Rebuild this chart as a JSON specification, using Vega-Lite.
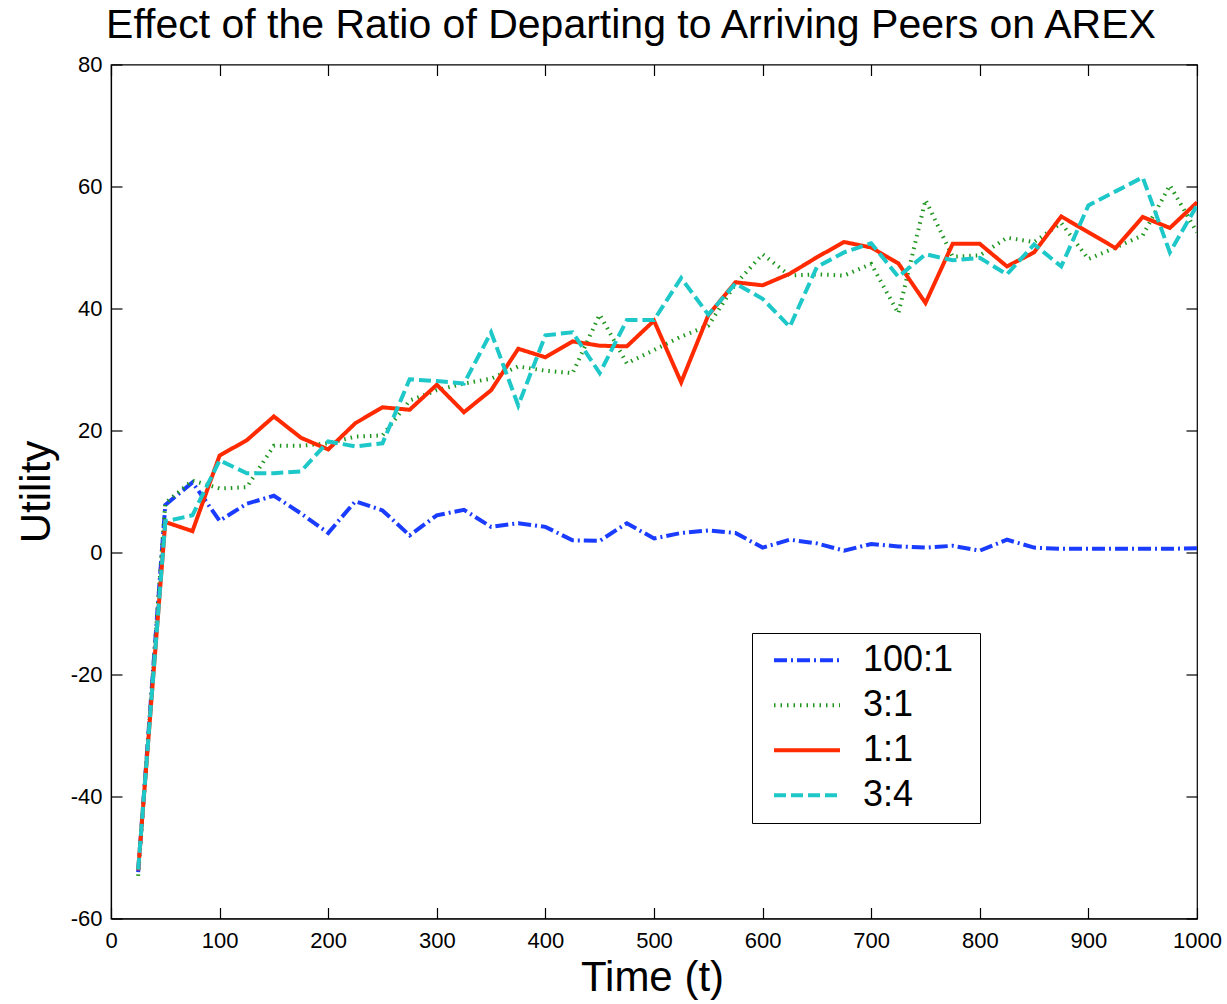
{
  "$schema": "https://vega.github.io/schema/vega-lite/v6.json",
  "width": 1086,
  "height": 854,
  "autosize": "none",
  "padding": {"left": 111, "top": 64.5, "right": 30, "bottom": 85.5},
  "background": "white",
  "title": {"text": "Effect of the Ratio of Departing to Arriving Peers on AREX", "font": "Liberation Sans", "fontSize": 41, "fontWeight": "normal", "color": "black", "anchor": "middle", "frame": "group", "dx": -23, "dy": 51, "offset": 26, "baseline": "alphabetic"},
  "data": {"values": [
    {"t":25,"s":"100:1","u":-52.4},{"t":50,"s":"100:1","u":7.8},{"t":75,"s":"100:1","u":11.5},{"t":100,"s":"100:1","u":5.2},{"t":125,"s":"100:1","u":8},{"t":150,"s":"100:1","u":9.3},{"t":175,"s":"100:1","u":6.4},{"t":200,"s":"100:1","u":3.2},{"t":225,"s":"100:1","u":8.4},{"t":250,"s":"100:1","u":6.9},{"t":275,"s":"100:1","u":2.8},{"t":300,"s":"100:1","u":6.1},{"t":325,"s":"100:1","u":7.0},{"t":350,"s":"100:1","u":4.2},{"t":375,"s":"100:1","u":4.8},{"t":400,"s":"100:1","u":4.2},{"t":425,"s":"100:1","u":2.0},{"t":450,"s":"100:1","u":1.9},{"t":475,"s":"100:1","u":4.8},{"t":500,"s":"100:1","u":2.3},{"t":525,"s":"100:1","u":3.2},{"t":550,"s":"100:1","u":3.6},{"t":575,"s":"100:1","u":3.2},{"t":600,"s":"100:1","u":0.8},{"t":625,"s":"100:1","u":2.1},{"t":650,"s":"100:1","u":1.5},{"t":675,"s":"100:1","u":0.3},{"t":700,"s":"100:1","u":1.4},{"t":725,"s":"100:1","u":1.0},{"t":750,"s":"100:1","u":0.8},{"t":775,"s":"100:1","u":1.1},{"t":800,"s":"100:1","u":0.3},{"t":825,"s":"100:1","u":2.1},{"t":850,"s":"100:1","u":0.8},{"t":875,"s":"100:1","u":0.6},{"t":900,"s":"100:1","u":0.6},{"t":925,"s":"100:1","u":0.6},{"t":950,"s":"100:1","u":0.6},{"t":975,"s":"100:1","u":0.6},{"t":1000,"s":"100:1","u":0.7},
    {"t":25,"s":"3:1","u":-53},{"t":50,"s":"3:1","u":8.1},{"t":75,"s":"3:1","u":11.8},{"t":100,"s":"3:1","u":10.5},{"t":125,"s":"3:1","u":10.7},{"t":150,"s":"3:1","u":17.5},{"t":175,"s":"3:1","u":17.5},{"t":200,"s":"3:1","u":17.9},{"t":225,"s":"3:1","u":19.0},{"t":250,"s":"3:1","u":19.2},{"t":275,"s":"3:1","u":24.9},{"t":300,"s":"3:1","u":26.6},{"t":325,"s":"3:1","u":27.7},{"t":350,"s":"3:1","u":28.5},{"t":375,"s":"3:1","u":30.5},{"t":400,"s":"3:1","u":29.8},{"t":425,"s":"3:1","u":29.4},{"t":450,"s":"3:1","u":39.0},{"t":475,"s":"3:1","u":31.0},{"t":500,"s":"3:1","u":33.2},{"t":525,"s":"3:1","u":35.4},{"t":550,"s":"3:1","u":37.2},{"t":575,"s":"3:1","u":44.0},{"t":600,"s":"3:1","u":48.9},{"t":625,"s":"3:1","u":45.4},{"t":650,"s":"3:1","u":45.6},{"t":675,"s":"3:1","u":45.4},{"t":700,"s":"3:1","u":47.3},{"t":725,"s":"3:1","u":39.2},{"t":750,"s":"3:1","u":57.8},{"t":775,"s":"3:1","u":48.5},{"t":800,"s":"3:1","u":48.7},{"t":825,"s":"3:1","u":51.6},{"t":850,"s":"3:1","u":50.9},{"t":875,"s":"3:1","u":54.0},{"t":900,"s":"3:1","u":48.1},{"t":925,"s":"3:1","u":50.0},{"t":950,"s":"3:1","u":52.0},{"t":975,"s":"3:1","u":60.2},{"t":1000,"s":"3:1","u":52.5},
    {"t":25,"s":"1:1","u":-52.1},{"t":50,"s":"1:1","u":5.0},{"t":75,"s":"1:1","u":3.5},{"t":100,"s":"1:1","u":15.9},{"t":125,"s":"1:1","u":18.4},{"t":150,"s":"1:1","u":22.3},{"t":175,"s":"1:1","u":18.8},{"t":200,"s":"1:1","u":16.9},{"t":225,"s":"1:1","u":21.2},{"t":250,"s":"1:1","u":23.8},{"t":275,"s":"1:1","u":23.4},{"t":300,"s":"1:1","u":27.5},{"t":325,"s":"1:1","u":23.0},{"t":350,"s":"1:1","u":26.6},{"t":375,"s":"1:1","u":33.4},{"t":400,"s":"1:1","u":32.0},{"t":425,"s":"1:1","u":34.6},{"t":450,"s":"1:1","u":33.9},{"t":475,"s":"1:1","u":33.8},{"t":500,"s":"1:1","u":38.0},{"t":525,"s":"1:1","u":27.9},{"t":550,"s":"1:1","u":38.9},{"t":575,"s":"1:1","u":44.3},{"t":600,"s":"1:1","u":43.8},{"t":625,"s":"1:1","u":45.7},{"t":650,"s":"1:1","u":48.4},{"t":675,"s":"1:1","u":50.9},{"t":700,"s":"1:1","u":50.0},{"t":725,"s":"1:1","u":47.4},{"t":750,"s":"1:1","u":40.9},{"t":775,"s":"1:1","u":50.6},{"t":800,"s":"1:1","u":50.6},{"t":825,"s":"1:1","u":46.9},{"t":850,"s":"1:1","u":49.2},{"t":875,"s":"1:1","u":55.1},{"t":900,"s":"1:1","u":52.5},{"t":925,"s":"1:1","u":49.9},{"t":950,"s":"1:1","u":55.0},{"t":975,"s":"1:1","u":53.2},{"t":1000,"s":"1:1","u":57.4},
    {"t":25,"s":"3:4","u":-52},{"t":50,"s":"3:4","u":5.1},{"t":75,"s":"3:4","u":6.1},{"t":100,"s":"3:4","u":15.1},{"t":125,"s":"3:4","u":13.0},{"t":150,"s":"3:4","u":13.0},{"t":175,"s":"3:4","u":13.3},{"t":200,"s":"3:4","u":18.2},{"t":225,"s":"3:4","u":17.4},{"t":250,"s":"3:4","u":17.9},{"t":275,"s":"3:4","u":28.4},{"t":300,"s":"3:4","u":28.1},{"t":325,"s":"3:4","u":27.7},{"t":350,"s":"3:4","u":36.1},{"t":375,"s":"3:4","u":24.1},{"t":400,"s":"3:4","u":35.6},{"t":425,"s":"3:4","u":36.1},{"t":450,"s":"3:4","u":29.4},{"t":475,"s":"3:4","u":38.1},{"t":500,"s":"3:4","u":38.1},{"t":525,"s":"3:4","u":45.0},{"t":550,"s":"3:4","u":39.0},{"t":575,"s":"3:4","u":44.1},{"t":600,"s":"3:4","u":41.6},{"t":625,"s":"3:4","u":37.0},{"t":650,"s":"3:4","u":46.8},{"t":675,"s":"3:4","u":49.2},{"t":700,"s":"3:4","u":50.7},{"t":725,"s":"3:4","u":45.2},{"t":750,"s":"3:4","u":48.9},{"t":775,"s":"3:4","u":47.9},{"t":800,"s":"3:4","u":48.3},{"t":825,"s":"3:4","u":45.6},{"t":850,"s":"3:4","u":50.5},{"t":875,"s":"3:4","u":46.9},{"t":900,"s":"3:4","u":56.9},{"t":925,"s":"3:4","u":59.2},{"t":950,"s":"3:4","u":61.5},{"t":975,"s":"3:4","u":49.2},{"t":1000,"s":"3:4","u":56.9}
  ]},
  "layer": [
    {
      "mark": {"type": "line", "clip": true},
      "encoding": {
        "x": {"field": "t", "type": "quantitative", "scale": {"domain": [0, 1000], "nice": false},
          "axis": {"title": "Time (t)", "values": [0,100,200,300,400,500,600,700,800,900,1000], "labelExpr": "'' + datum.value", "grid": false, "tickSize": -11, "tickColor": "black", "domainColor": "black", "labelPadding": 23, "labelFont": "Liberation Sans", "labelFontSize": 22, "labelColor": "black", "titleFont": "Liberation Sans", "titleFontSize": 42, "titleFontWeight": "normal", "titleColor": "black", "titleBaseline": "alphabetic", "titleX": 541, "titleY": 72, "labelFlush": false}},
        "y": {"field": "u", "type": "quantitative", "scale": {"domain": [-60, 80], "nice": false, "zero": false},
          "axis": {"title": "Utility", "values": [-60,-40,-20,0,20,40,60,80], "labelExpr": "'' + datum.value", "grid": false, "tickSize": -11, "tickColor": "black", "domainColor": "black", "labelPadding": 20, "labelFont": "Liberation Sans", "labelFontSize": 22, "labelColor": "black", "titleFont": "Liberation Sans", "titleFontSize": 42, "titleFontWeight": "normal", "titleColor": "black", "titleBaseline": "alphabetic", "titleX": -62, "titleY": 427, "titleAngle": -90, "titleAlign": "center"}},
        "color": {"field": "s", "type": "nominal", "scale": {"domain": ["100:1","3:1","1:1","3:4"], "range": ["#1a3cff","#1e961e","#ff2a00","#1ec8c8"]},
          "legend": {"title": " ", "titleOrient": "right", "titleFontSize": 80, "titlePadding": 22, "orient": "none", "legendX": 641, "legendY": 568.5, "strokeColor": "black", "fillColor": "white", "padding": 5, "clipHeight": 44.6, "rowPadding": 0, "labelFont": "Liberation Sans", "labelFontSize": 36, "labelColor": "black", "symbolType": "stroke", "symbolSize": 4356, "symbolOffset": 15, "labelOffset": 21}},
        "strokeDash": {"field": "s", "type": "nominal", "scale": {"domain": ["100:1","3:1","1:1","3:4"], "range": [[13,4,2,4],[1.5,5],[1,0],[12,5]]}},
        "strokeWidth": {"field": "s", "type": "nominal", "scale": {"domain": ["100:1","3:1","1:1","3:4"], "range": [4,4,4.5,5]}}
      }
    },
    {
      "mark": {"type": "rule", "opacity": 0},
      "encoding": {
        "x": {"field": "t", "type": "quantitative", "axis": {"orient": "top", "title": null, "labels": false, "domain": false, "grid": false, "values": [0,100,200,300,400,500,600,700,800,900,1000], "tickSize": -11, "tickColor": "black"}},
        "y": {"field": "u", "type": "quantitative", "axis": {"orient": "right", "title": null, "labels": false, "domain": false, "grid": false, "values": [-60,-40,-20,0,20,40,60,80], "tickSize": -11, "tickColor": "black"}}
      }
    }
  ],
  "resolve": {"axis": {"x": "independent", "y": "independent"}},
  "config": {"view": {"stroke": "black", "strokeWidth": 1.2}, "axis": {"domainWidth": 1.2, "tickWidth": 1.2}}
}
